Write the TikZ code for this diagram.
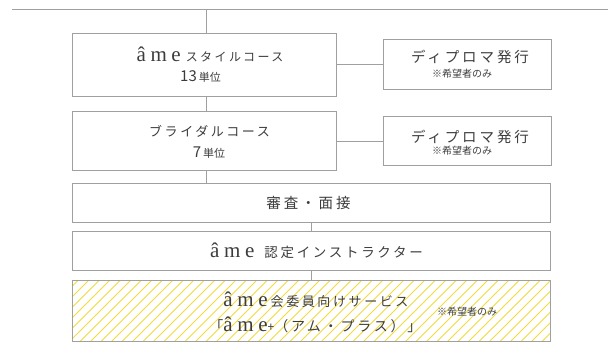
\documentclass[tikz,border=0pt]{standalone}
\usepackage{fontspec}
\setmainfont{Noto Sans CJK JP}
\newfontfamily\jpfont[LetterSpace=20]{Noto Sans CJK JP}
\newfontfamily\notefont{Noto Sans CJK JP}
\newfontfamily\amefont[LetterSpace=22]{Liberation Serif}
\usetikzlibrary{positioning}
\definecolor{framegray}{HTML}{A0A0A0}
\definecolor{textgray}{HTML}{3C3C3C}
\definecolor{hatchyellow}{HTML}{F0DC3C}
\newcommand{\ame}{{\amefont\fontsize{21}{21}\selectfont âme}}

\begin{document}
\begin{tikzpicture}
                %% setup
                [
                    x=1pt, y=-1pt,
                    framebox/.style={rectangle, draw=framegray, line width=0.9pt, inner sep=0pt},
                    coursebox/.style={framebox, minimum width=264pt, minimum height=63pt},
                    diplomabox/.style={framebox, minimum width=168pt, minimum height=49.5pt},
                    widebox/.style={framebox, minimum width=477.5pt, minimum height=39.5pt},
                    hatched/.style={path picture={
                        \foreach \x in {-66,-55.5,...,490}
                            \draw[draw=hatchyellow, line width=0.8pt] ([xshift=\x pt]path picture bounding box.south west) -- ++(70,-70);
                    }},
                    link/.style={draw=framegray, line width=0.9pt},
                    label/.style={text=textgray, inner sep=0pt},
                ]
                    \useasboundingbox (0,0) rectangle (608,342);

                    %% Nodes
                    \node [coursebox] (stylecourse) at (204.3,64.6) {};
                    \node [coursebox, minimum height=59pt] (bridalcourse) at (204.3,141) {};
                    \node [diplomabox] (diplomaA) [right=46pt of stylecourse] {};
                    \node [diplomabox] (diplomaB) [right=46pt of bridalcourse] {};
                    \node [widebox] (exam) at (311.2,203) {};
                    \node [widebox] (instructor) at (311.2,250.8) {};
                    \node [widebox, hatched, minimum height=61pt] (service) at (311.2,311) {};
                    \coordinate (topleft) at (12,9.3);
                    \coordinate (topright) at (608,9.3);
                    \coordinate (spine) at (206.5,9.3);

                    %% Labels
                    \node [label] (styletitle) at (210,54) {\ame\hspace{5pt}\jpfont\fontsize{12}{12}\selectfont スタイルコース};
                    \node [label] (styleunits) at (200.5,76.5) {\notefont\fontsize{15}{15}\selectfont 13\hspace{2pt}\fontsize{11}{11}\selectfont 単位};
                    \node [label] (bridaltitle) at (209.5,131.5) {\jpfont\fontsize{13}{13}\selectfont ブライダルコース};
                    \node [label] (bridalunits) at (209,153) {\notefont\fontsize{15}{15}\selectfont 7\hspace{2pt}\fontsize{11}{11}\selectfont 単位};
                    \node [label] (diplomaAtitle) at (470,57) {\jpfont\fontsize{14.5}{14.5}\selectfont ディプロマ発行};
                    \node [label] (diplomaAnote) at (462,73.5) {\notefont\fontsize{10}{10}\selectfont ※希望者のみ};
                    \node [label] (diplomaBtitle) at (470,136.7) {\jpfont\fontsize{14.5}{14.5}\selectfont ディプロマ発行};
                    \node [label] (diplomaBnote) at (462,151) {\notefont\fontsize{10}{10}\selectfont ※希望者のみ};
                    \node [label] (examtitle) at (308.5,203) {\jpfont\fontsize{14.5}{14.5}\selectfont 審査・面接};
                    \node [label] (instructortitle) at (316.5,250.7) {\ame\hspace{10pt}\jpfont\fontsize{13.5}{13.5}\selectfont 認定インストラクター};
                    \node [label] (servicetitle) at (316,300) {\ame\hspace{3pt}\jpfont\fontsize{13}{13}\selectfont 会委員向けサービス};
                    \node [label] (servicename) at (315.5,325) {\jpfont\fontsize{14}{14}\selectfont 「\ame{\notefont\fontsize{12}{12}\selectfont +}（アム・プラス）」};
                    \node [label] (servicenote) at (467,312) {\notefont\fontsize{10}{10}\selectfont ※希望者のみ};

                    %% Lines
                    \draw[link, line width=1.4pt] (topleft) -- (topright);
                    \draw[link] (spine) -- (spine |- stylecourse.north);
                    \draw[link] (stylecourse.south -| spine) -- (bridalcourse.north -| spine);
                    \draw[link] (bridalcourse.south -| spine) -- (exam.north -| spine);
                    \draw[link] (exam.south) -- (instructor.north);
                    \draw[link] (instructor.south) -- (service.north);
                    \draw[link] (stylecourse.east) -- (diplomaA.west);
                    \draw[link] (bridalcourse.east) -- (diplomaB.west);
                \end{tikzpicture}
\end{document}
